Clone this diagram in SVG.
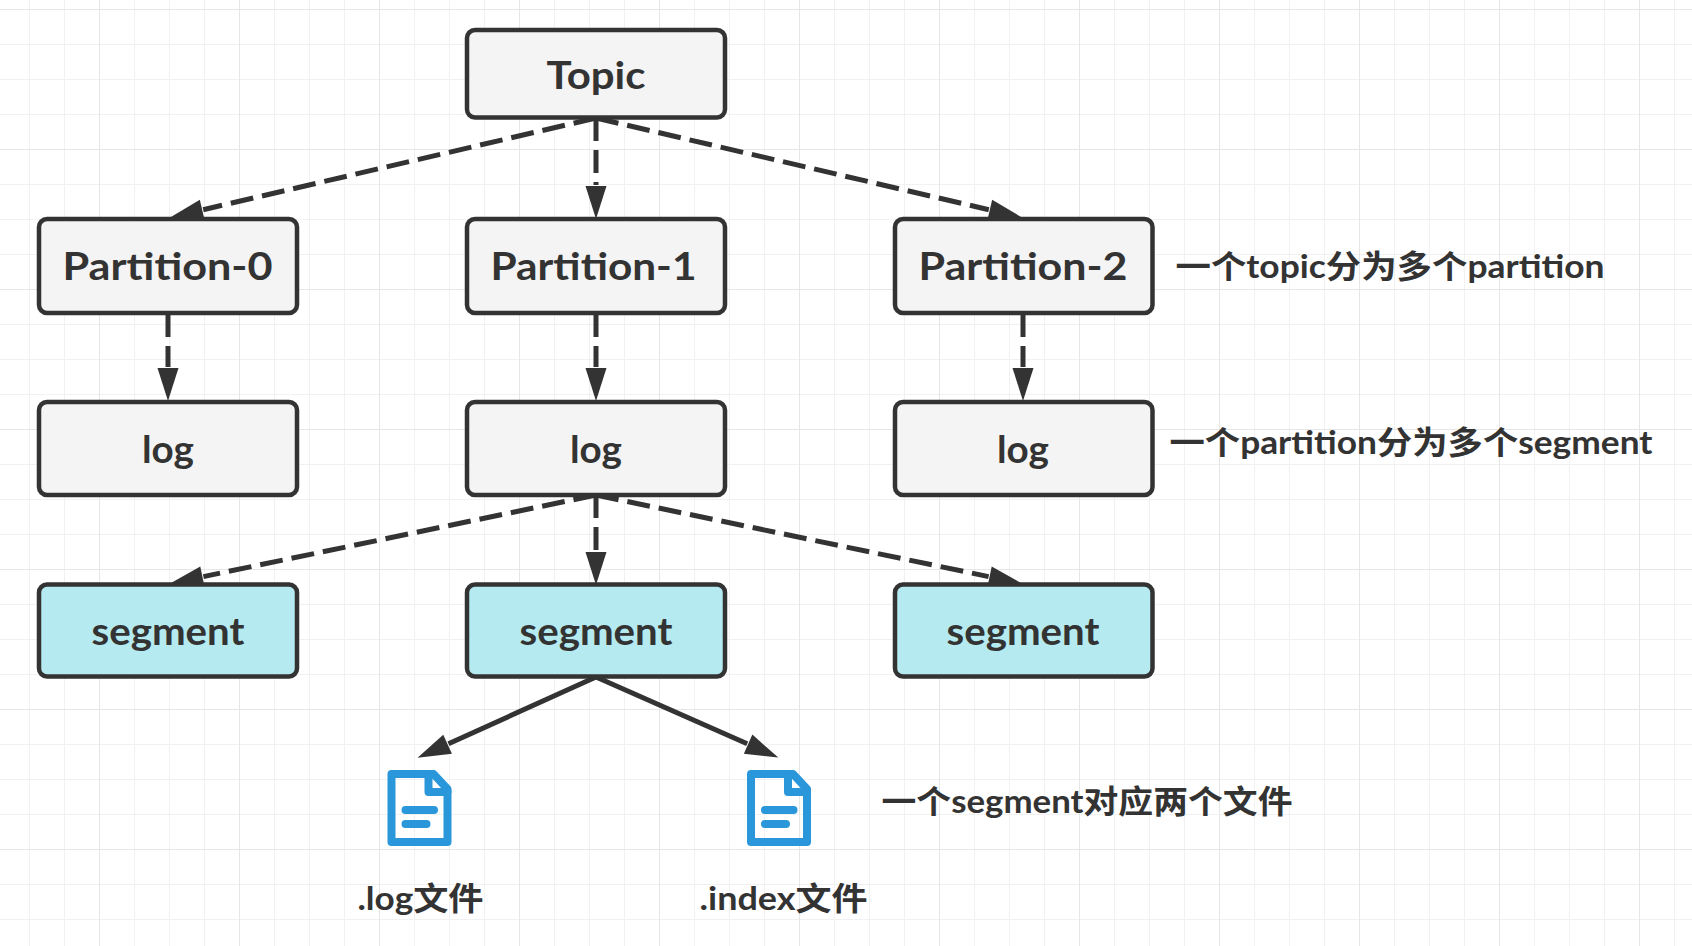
<svg xmlns="http://www.w3.org/2000/svg" xmlns:xlink="http://www.w3.org/1999/xlink" width="1692" height="946" viewBox="0 0 1692 946">
<style>
.box{stroke:#333;stroke-width:4.5;fill:#f4f4f4}
.seg{fill:#b5ebf0}
.t{font-family:"Lato","Noto Sans CJK SC",sans-serif;fill:#333;font-weight:700}
.n{font-size:38px}
.l{font-size:32px}
.c{fill:none;stroke:#333;stroke-width:5}
.d{stroke-dasharray:23 9}
.ic{fill:none;stroke:#2a97da;stroke-width:8;stroke-linejoin:round;stroke-linecap:round}
</style>
<defs>
<pattern id="grid" patternUnits="userSpaceOnUse" x="29" y="9" width="140" height="140">
<path d="M0.5 0V140M35.5 0V140M105.5 0V140M0 35.5H140M0 70.5H140M0 105.5H140" stroke="#f1f1f1" stroke-width="1" fill="none"/>
<path d="M70.5 0V140M0 0.5H140" stroke="#e6e6e6" stroke-width="1" fill="none"/>
</pattern>
<marker id="arrow" markerUnits="userSpaceOnUse" markerWidth="36" markerHeight="22" refX="1" refY="11" orient="auto">
<path d="M2 0.5L35 11L2 21.5Z" fill="#333"/>
</marker>
<g id="file">
<path class="ic" d="M4 4H46L60 19V72H4Z"/>
<path class="ic" d="M41 4V22H60"/>
<path class="ic" d="M18 40H46.5M18 54H39"/>
</g>
</defs>
<rect width="1692" height="946" fill="#fff"/>
<rect id="background-grid" width="1692" height="946" fill="url(#grid)"/>
<g id="connectors">
<path class="c d" marker-end="url(#arrow)" d="M596 118L203.2 209.7"/>
<path class="c d" marker-end="url(#arrow)" d="M596 118V185"/>
<path class="c d" marker-end="url(#arrow)" d="M596 118L988.8 209.7"/>
<path class="c d" marker-end="url(#arrow)" d="M168 314V367"/>
<path class="c d" marker-end="url(#arrow)" d="M596 314V367"/>
<path class="c d" marker-end="url(#arrow)" d="M1023 314V367"/>
<path class="c d" marker-end="url(#arrow)" d="M596 495L203.4 576.6"/>
<path class="c d" marker-end="url(#arrow)" d="M596 495V551"/>
<path class="c d" marker-end="url(#arrow)" d="M596 495L988.6 576.6"/>
<path class="c" marker-end="url(#arrow)" d="M596 677L448.5 743.8"/>
<path class="c" marker-end="url(#arrow)" d="M596 677L747.2 743.8"/>
</g>
<g id="topic"><rect class="box" x="467" y="30" width="258" height="87.5" rx="8"/><text class="t n" x="596" y="88.5" text-anchor="middle" textLength="99" lengthAdjust="spacingAndGlyphs">Topic</text></g>
<g id="partition-0"><rect class="box" x="39" y="219" width="258" height="94" rx="8"/><text class="t n" x="167.5" y="280" text-anchor="middle" textLength="210" lengthAdjust="spacingAndGlyphs">Partition-0</text></g>
<g id="partition-1"><rect class="box" x="467" y="219" width="258" height="94" rx="8"/><text class="t n" x="593.5" y="280" text-anchor="middle" textLength="206" lengthAdjust="spacingAndGlyphs">Partition-1</text></g>
<g id="partition-2"><rect class="box" x="895" y="219" width="257.5" height="94" rx="8"/><text class="t n" x="1023" y="280" text-anchor="middle" textLength="209" lengthAdjust="spacingAndGlyphs">Partition-2</text></g>
<g id="log-0"><rect class="box" x="39" y="402" width="258" height="93" rx="8"/><text class="t n" x="168" y="463" text-anchor="middle" textLength="52" lengthAdjust="spacingAndGlyphs">log</text></g>
<g id="log-1"><rect class="box" x="467" y="402" width="258" height="93" rx="8"/><text class="t n" x="596" y="463" text-anchor="middle" textLength="52" lengthAdjust="spacingAndGlyphs">log</text></g>
<g id="log-2"><rect class="box" x="895" y="402" width="257.5" height="93" rx="8"/><text class="t n" x="1023" y="463" text-anchor="middle" textLength="52" lengthAdjust="spacingAndGlyphs">log</text></g>
<g id="segment-0"><rect class="box seg" x="39" y="584.5" width="258" height="92" rx="8"/><text class="t n" x="168" y="645" text-anchor="middle" textLength="153" lengthAdjust="spacingAndGlyphs">segment</text></g>
<g id="segment-1"><rect class="box seg" x="467" y="584.5" width="258" height="92" rx="8"/><text class="t n" x="596" y="645" text-anchor="middle" textLength="153" lengthAdjust="spacingAndGlyphs">segment</text></g>
<g id="segment-2"><rect class="box seg" x="895" y="584.5" width="257.5" height="92" rx="8"/><text class="t n" x="1023" y="645" text-anchor="middle" textLength="153" lengthAdjust="spacingAndGlyphs">segment</text></g>
<g id="file-log"><use href="#file" transform="translate(387.5 770)"/><text class="t l" x="357.5" y="910" textLength="126" lengthAdjust="spacingAndGlyphs">.log文件</text></g>
<g id="file-index"><use href="#file" transform="translate(747 770)"/><text class="t l" x="699.5" y="910" textLength="168" lengthAdjust="spacingAndGlyphs">.index文件</text></g>
<g id="note-topic"><text class="t l" x="1175.5" y="278" textLength="429" lengthAdjust="spacingAndGlyphs">一个topic分为多个partition</text></g>
<g id="note-partition"><text class="t l" x="1169.5" y="454" textLength="483" lengthAdjust="spacingAndGlyphs">一个partition分为多个segment</text></g>
<g id="note-segment"><text class="t l" x="881.5" y="813" textLength="411" lengthAdjust="spacingAndGlyphs">一个segment对应两个文件</text></g>
</svg>
